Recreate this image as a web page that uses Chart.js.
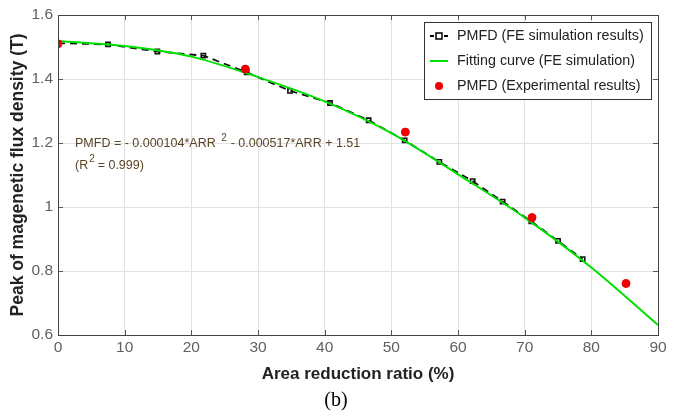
<!DOCTYPE html>
<html>
<head>
<meta charset="utf-8">
<script src="https://cdn.jsdelivr.net/npm/chart.js@4.4.0/dist/chart.umd.min.js"></script>
<style>
  body { margin: 0; background: #fff; }
  #wrap { width: 674px; height: 416px; }
</style>
</head>
<body>
<div id="wrap"><canvas id="pmfdChart" width="674" height="416"></canvas></div>
<script>
// FE simulation results (black squares, dashed)
var feArr  = [0, 7.5, 14.9, 21.8, 28.3, 34.8, 40.8, 46.6, 52.0, 57.2, 62.2, 66.7, 71.0, 75.0, 78.7];
var fePmfd = [1.512, 1.508, 1.486, 1.473, 1.421, 1.363, 1.325, 1.271, 1.208, 1.141, 1.081, 1.017, 0.955, 0.894, 0.837];

// fitting curve
var fitArr  = [0, 10, 20, 30, 40, 50, 60, 70, 80, 90];
var fitPmfd = [1.519, 1.503, 1.470, 1.406, 1.330, 1.231, 1.102, 0.967, 0.811, 0.631];

// experimental results (red dots)
var expArr  = [0, 28.1, 52.1, 71.1, 85.2];
var expPmfd = [1.51, 1.431, 1.234, 0.967, 0.761];

var xTicks = [0, 10, 20, 30, 40, 50, 60, 70, 80, 90];
var yTicks = [0.6, 0.8, 1, 1.2, 1.4, 1.6];

function pts(xs, ys) {
  var out = [];
  for (var i = 0; i < xs.length; i++) out.push({x: xs[i], y: ys[i]});
  return out;
}

var legendItems = [
  {text: 'PMFD (FE simulation results)', kind: 'fe'},
  {text: 'Fitting curve (FE simulation)', kind: 'fit'},
  {text: 'PMFD (Experimental results)', kind: 'exp'}
];

var FONT = '"Liberation Sans", Arial, sans-serif';

// inward tick marks, legend box, equation text, (b) label
var extras = {
  id: 'extras',
  afterDraw: function(chart) {
    var c = chart.ctx, a = chart.chartArea;
    var xs = chart.scales.x, ys = chart.scales.y;
    c.save();
    c.strokeStyle = '#555';
    c.lineWidth = 1;
    xTicks.forEach(function(v) {
      var px = Math.round(xs.getPixelForValue(v)) + 0.5;
      c.beginPath();
      c.moveTo(px, a.bottom); c.lineTo(px, a.bottom - 5);
      c.moveTo(px, a.top); c.lineTo(px, a.top + 5);
      c.stroke();
    });
    yTicks.forEach(function(v) {
      var py = Math.round(ys.getPixelForValue(v)) + 0.5;
      c.beginPath();
      c.moveTo(a.left, py); c.lineTo(a.left + 5, py);
      c.moveTo(a.right, py); c.lineTo(a.right - 5, py);
      c.stroke();
    });
    c.strokeStyle = '#444';
    c.strokeRect(Math.round(a.left) + 0.5, Math.round(a.top) + 0.5, Math.round(a.right - a.left), Math.round(a.bottom - a.top));

    // legend
    var lx = 424, ly = 22, lw = 227, lh = 77;
    c.fillStyle = '#fff';
    c.fillRect(lx, ly, lw, lh);
    c.strokeStyle = '#333';
    c.strokeRect(lx + 0.5, ly + 0.5, lw, lh);
    c.font = '14.3px ' + FONT;
    c.textBaseline = 'middle';
    legendItems.forEach(function(it, i) {
      var cy = ly + 14 + i * 25;
      var sx = lx + 6;
      if (it.kind === 'fe') {
        c.strokeStyle = '#000';
        c.lineWidth = 1.8;
        c.setLineDash([4, 3]);
        c.beginPath(); c.moveTo(sx, cy); c.lineTo(sx + 18, cy); c.stroke();
        c.setLineDash([]);
        c.fillStyle = '#fff';
        c.fillRect(sx + 6, cy - 3, 6, 6);
        c.lineWidth = 1.5;
        c.strokeRect(sx + 6, cy - 3, 6, 6);
      } else if (it.kind === 'fit') {
        c.strokeStyle = '#00e000';
        c.lineWidth = 2;
        c.beginPath(); c.moveTo(sx, cy); c.lineTo(sx + 18, cy); c.stroke();
      } else {
        c.fillStyle = '#ee0000';
        c.beginPath(); c.arc(sx + 9, cy, 4, 0, Math.PI * 2); c.fill();
      }
      c.fillStyle = '#222';
      c.textAlign = 'left';
      c.fillText(it.text, lx + 33, cy);
    });

    // equation
    c.fillStyle = '#5a4526';
    c.font = '12.5px ' + FONT;
    c.textAlign = 'left';
    c.textBaseline = 'alphabetic';
    var t1 = 'PMFD = - 0.000104*ARR ';
    c.fillText(t1, 75, 147);
    var w1 = c.measureText(t1).width;
    c.font = '10px ' + FONT;
    c.fillText('2', 75 + w1 + 2, 141);
    c.font = '12.5px ' + FONT;
    c.fillText(' - 0.000517*ARR + 1.51', 75 + w1 + 8, 147);
    c.fillText('(R', 75, 169);
    var w2 = c.measureText('(R').width;
    c.font = '10px ' + FONT;
    c.fillText('2', 75 + w2 + 1, 162);
    c.font = '12.5px ' + FONT;
    c.fillText(' = 0.999)', 75 + w2 + 6, 169);

    // (b)
    c.fillStyle = '#000';
    c.font = '20px "Liberation Serif", "Times New Roman", serif';
    c.textAlign = 'center';
    c.fillText('(b)', 336, 406);
    c.restore();
  }
};

var chart = new Chart(document.getElementById('pmfdChart').getContext('2d'), {
  type: 'scatter',
  data: {
    datasets: [
      {
        label: 'PMFD (Experimental results)',
        data: pts(expArr, expPmfd),
        showLine: false,
        pointRadius: 4,
        pointBackgroundColor: '#ee0000',
        pointBorderColor: '#ee0000',
        order: 0
      },
      {
        label: 'Fitting curve (FE simulation)',
        data: pts(fitArr, fitPmfd),
        showLine: true,
        borderColor: '#00e000',
        borderWidth: 2,
        pointRadius: 0,
        cubicInterpolationMode: 'monotone',
        order: 1
      },
      {
        label: 'PMFD (FE simulation results)',
        data: pts(feArr, fePmfd),
        showLine: true,
        borderColor: '#111',
        borderWidth: 1.8,
        borderDash: [7, 5],
        pointStyle: 'rect',
        pointRadius: 3,
        pointBorderWidth: 1.6,
        pointBackgroundColor: 'rgba(255,255,255,0)',
        pointBorderColor: '#111',
        order: 2
      }
    ]
  },
  options: {
    responsive: false,
    animation: false,
    layout: { padding: { top: 15, right: 16, bottom: 31, left: 8 } },
    plugins: { legend: { display: false }, tooltip: { enabled: false } },
    scales: {
      x: {
        min: 0, max: 90,
        afterBuildTicks: function(s) { s.ticks = xTicks.map(function(v) { return {value: v}; }); },
        afterFit: function(s) { s.height = 50; },
        grid: { color: '#e2e2e2', drawTicks: false },
        border: { display: false },
        ticks: { color: '#606060', padding: 3, font: { size: 15.5, family: FONT } },
        title: { display: true, text: 'Area reduction ratio (%)', color: '#222', padding: { top: 0, bottom: 0 },
                 font: { size: 17, weight: 'bold', family: FONT } }
      },
      y: {
        min: 0.6, max: 1.6,
        afterBuildTicks: function(s) { s.ticks = yTicks.map(function(v) { return {value: v}; }); },
        afterFit: function(s) { s.width = 50; },
        grid: { color: '#e2e2e2', drawTicks: false },
        border: { display: false },
        ticks: { color: '#606060', padding: 5, font: { size: 15.5, family: FONT },
                 callback: function(v) { return String(Math.round(v * 10) / 10); } },
        title: { display: true, text: 'Peak of magenetic flux density (T)', color: '#222', padding: { top: 0, bottom: 0 },
                 font: { size: 17.5, weight: 'bold', family: FONT } }
      }
    }
  },
  plugins: [extras]
});
</script>
</body>
</html>
